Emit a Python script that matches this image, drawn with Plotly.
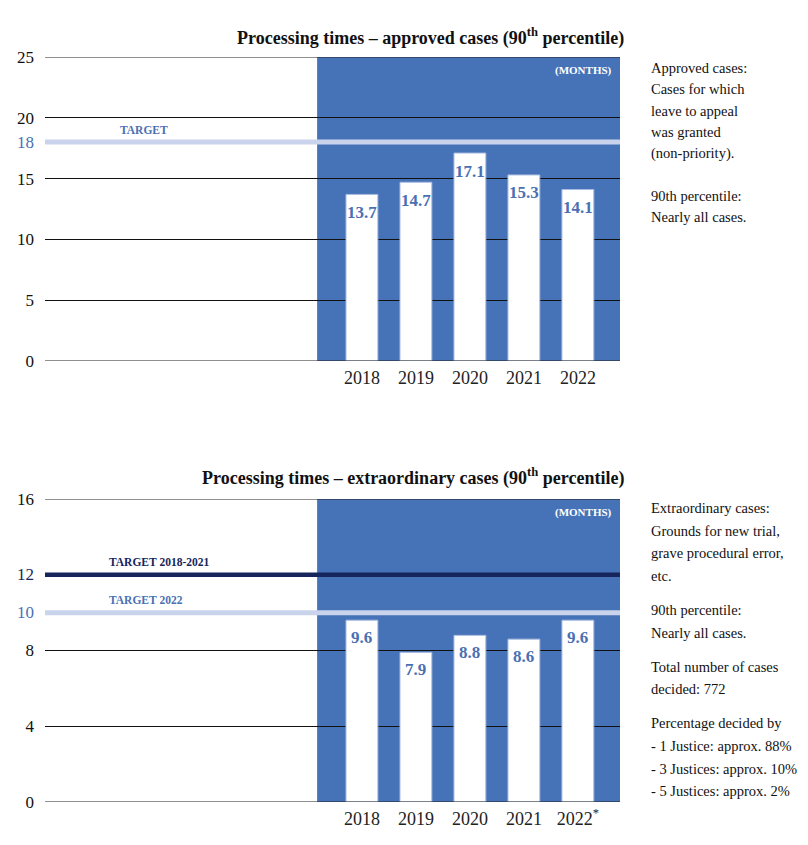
import plotly.graph_objects as go

# ---------------- data ----------------
years = [2018, 2019, 2020, 2021, 2022]
year_labels_top = ["2018", "2019", "2020", "2021", "2022"]
year_labels_bottom = ["2018", "2019", "2020", "2021", "2022<sup>*</sup>"]

approved_values = [13.7, 14.7, 17.1, 15.3, 14.1]
approved_ticks = [0, 5, 10, 15, 20, 25]
approved_target = 18

extra_values = [9.6, 7.9, 8.8, 8.6, 9.6]
extra_ticks = [0, 4, 8, 16]
extra_target_old = 12
extra_target_new = 10

title_top = "Processing times – approved cases (90<sup>th</sup> percentile)"
title_bottom = "Processing times – extraordinary cases (90<sup>th</sup> percentile)"

notes_top = [["Approved cases:", "Cases for which", "leave to appeal", "was granted", "(non-priority)."],
             ["90th percentile:", "Nearly all cases."]]
notes_bottom = [["Extraordinary cases:", "Grounds for new trial,", "grave procedural error,", "etc."],
                ["90th percentile:", "Nearly all cases."],
                ["Total number of cases", "decided: 772"],
                ["Percentage decided by", "- 1 Justice: approx. 88%", "- 3 Justices: approx. 10%", "- 5 Justices: approx. 2%"]]

# ---------------- style ----------------
OFF = 8                      # page body margin
W, H = 808 - OFF, 845 - OFF
BAND = "#4673b7"
LIGHT = "#c9d4ec"
NAVY = "#16255c"
LABEL_BLUE = "#4a70b3"
SERIF = "Liberation Serif"
X_RANGE = [2012.13, 2022.78]
BAND_START = 2017.17


def px(x):
    return (x - OFF) / W


def py(y):
    return 1 - (y - OFF) / H


fig = go.Figure()

panels = [
    dict(xa="x", ya="y", vals=approved_values, ticks=approved_ticks, ymax=25,
         labels=year_labels_top, ytop=57, ybot=361, title=title_top, title_y=37, shift=-18),
    dict(xa="x2", ya="y2", vals=extra_values, ticks=extra_ticks, ymax=16,
         labels=year_labels_bottom, ytop=499, ybot=802, title=title_bottom, title_y=477, shift=-17),
]

annotations = []
for p in panels:
    fig.add_trace(go.Bar(
        x=years, y=p["vals"], xaxis=p["xa"], yaxis=p["ya"], width=0.59,
        marker=dict(color="white", line=dict(color="#a9bbe0", width=1)),
        showlegend=False, hoverinfo="skip",
    ))
    for yr, v in zip(years, p["vals"]):
        annotations.append(dict(text=f"{v:.1f}", xref=p["xa"], yref=p["ya"], x=yr, y=v,
                                yshift=p["shift"], xanchor="center", yanchor="middle", showarrow=False,
                                font=dict(family=SERIF, size=17, color=LABEL_BLUE, weight="bold")))

common_x = dict(range=X_RANGE, showgrid=False, zeroline=False, showline=False, automargin=False,
                ticks="", tickvals=years, fixedrange=True, ticklabelstandoff=4,
                tickfont=dict(family=SERIF, size=18, color="#222"))
common_y = dict(showgrid=True, gridcolor="#111", gridwidth=1, zeroline=False, showline=False,
                automargin=False, ticks="", ticklabelstandoff=10, fixedrange=True,
                tickfont=dict(family=SERIF, size=17, color="#111"))
fig.update_layout(
    width=W, height=H, margin=dict(l=0, r=0, t=0, b=0, autoexpand=False),
    paper_bgcolor="white", plot_bgcolor="white",
    font=dict(family=SERIF),
    xaxis=dict(domain=[px(45), px(620)], anchor="y", ticktext=year_labels_top, **common_x),
    yaxis=dict(domain=[py(361), py(57)], range=[0, 25], anchor="x", tickvals=approved_ticks, **common_y),
    xaxis2=dict(domain=[px(45), px(620)], anchor="y2", ticktext=year_labels_bottom, **common_x),
    yaxis2=dict(domain=[py(802), py(499)], range=[0, 16], anchor="x2", tickvals=extra_ticks, **common_y),
)

shapes = []
for p in panels:
    shapes.append(dict(type="rect", xref=p["xa"], yref=p["ya"], x0=BAND_START, x1=X_RANGE[1],
                       y0=0, y1=p["ymax"], fillcolor=BAND, line=dict(width=0), layer="below"))
    # lines at range ends (bottom and top)
    for v in (0, p["ymax"]):
        shapes.append(dict(type="line", xref=p["xa"] + " domain", yref=p["ya"], x0=0, x1=1, y0=v, y1=v,
                           line=dict(color="#222", width=1.2), layer="above"))
    annotations.append(dict(text=p["title"], xref="paper", yref="paper", x=px(626), y=py(p["title_y"]),
                            xanchor="right", yanchor="middle", showarrow=False,
                            font=dict(family=SERIF, size=18, color="#111", weight="bold")))
    annotations.append(dict(text="<b>(MONTHS)</b>", xref="paper", yref="paper", x=px(614),
                            y=py(p["ytop"] + 13), xanchor="right", yanchor="middle", showarrow=False,
                            font=dict(family=SERIF, size=11, color="white")))


def target(xa, ya, value, color, width, label, label_color, label_x_px, label_y_px):
    shapes.append(dict(type="line", xref=xa + " domain", yref=ya, x0=0, x1=1, y0=value, y1=value,
                       line=dict(color=color, width=width), layer="above"))
    annotations.append(dict(text=str(value), xref="paper", yref=ya, x=px(36), y=value,
                            xanchor="right", yanchor="middle", showarrow=False,
                            font=dict(family=SERIF, size=17, color=label_color)))
    annotations.append(dict(text="<b>" + label + "</b>", xref="paper", yref="paper", x=px(label_x_px),
                            y=py(label_y_px), xanchor="left", yanchor="middle", showarrow=False,
                            font=dict(family=SERIF, size=11.5, color=label_color)))


target("x", "y", approved_target, LIGHT, 5, "TARGET", LABEL_BLUE, 118, 130)
target("x2", "y2", extra_target_old, NAVY, 4.5, "TARGET 2018-2021", NAVY, 107, 562)
target("x2", "y2", extra_target_new, LIGHT, 5, "TARGET 2022", LABEL_BLUE, 107, 600)


def notes(paragraphs, y_start, line_step, para_gap):
    y = y_start
    for para in paragraphs:
        for line in para:
            annotations.append(dict(text=line, xref="paper", yref="paper", x=px(649), y=py(y),
                                    xanchor="left", yanchor="middle", showarrow=False,
                                    font=dict(family=SERIF, size=14.5, color="#111")))
            y += line_step
        y += para_gap


notes(notes_top, 68, 21.3, 21.3)
notes(notes_bottom, 508, 22.6, 11.5)

fig.update_layout(shapes=shapes, annotations=annotations)
fig.write_html("out.html")
